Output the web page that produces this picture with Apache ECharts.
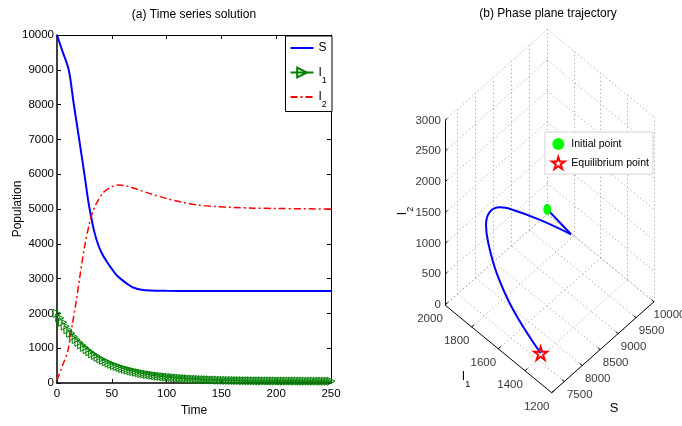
<!DOCTYPE html>
<html>
<head>
<meta charset="utf-8">
<script src="https://cdn.jsdelivr.net/npm/echarts@6/dist/echarts.min.js"></script>
<style>
html, body { margin: 0; padding: 0; background: #fff; }
#chart { width: 682px; height: 426px; }
</style>
</head>
<body>
<div id="chart"></div>
<script>
var FONT = '"Liberation Sans", Arial, sans-serif';

// ---- (a) time series ----
var tS = [0, 5, 10.7, 15, 20, 25, 28.4, 31, 34, 37.5, 41, 45.2, 50, 54.3, 59, 64, 69.5, 77, 85, 100, 125, 150, 175, 200, 225, 250];
var valS = [10000, 9530, 9000, 8080, 7050, 6000, 5254, 4800, 4350, 3980, 3720, 3500, 3280, 3100, 2970, 2850, 2744, 2680, 2655, 2648, 2646, 2645, 2645, 2645, 2645, 2645];

var tI2 = [0, 5, 10, 14, 17.7, 20.8, 25, 29.9, 33, 36, 42, 50, 56, 65, 75, 87, 100, 115, 130, 145, 160, 180, 200, 225, 250];
var valI2 = [80, 500, 940, 1690, 2380, 3050, 3890, 4630, 4950, 5160, 5465, 5640, 5690, 5650, 5545, 5420, 5300, 5190, 5110, 5070, 5045, 5025, 5015, 5005, 5000];

// I1 sampled every 2.5 time units (dense markers)
var I1_STEP = 2.5;
var valI1 = [2000, 1869, 1747, 1633, 1527, 1428, 1336, 1249, 1169, 1094,
  1024, 958, 898, 841, 788, 738, 692, 649, 609, 571,
  536, 504, 473, 445, 418, 394, 371, 349, 329, 310,
  293, 276, 261, 247, 234, 222, 210, 199, 189, 180,
  171, 163, 156, 148, 142, 136, 130, 125, 120, 115,
  111, 106, 103, 99, 96, 93, 90, 87, 85, 82,
  80, 78, 76, 75, 73, 71, 70, 69, 67, 66,
  65, 64, 63, 62, 61, 61, 60, 59, 59, 58,
  58, 57, 57, 56, 56, 55, 55, 55, 54, 54,
  54, 53, 53, 53, 53, 53, 52, 52, 52, 52, 52];

// ---- (b) phase trajectory (S, I1, I2) ----
var trajS  = [10000, 9907, 9004, 8258, 7873, 7568, 7349, 7231, 7206, 7201, 7200];
var trajI1 = [2000, 1797, 1787, 1786, 1782, 1775, 1746, 1697, 1627, 1502, 1296];
var trajI2 = [76, 80, 800, 1350, 1600, 1700, 1650, 1500, 1150, 780, 444];
var initPoint = [10000, 2000, 76];
var eqPoint = [7200, 1296, 444];

var sTicks = [7500, 8000, 8500, 9000, 9500, 10000];
var i1Ticks = [1200, 1400, 1600, 1800, 2000];
var i2Ticks = [0, 500, 1000, 1500, 2000, 2500, 3000];
var S_MIN = 7150, S_MAX = 10000, I1_MIN = 1200, I1_MAX = 2000, I2_MIN = 0, I2_MAX = 3000;

// view of the 3d box on the page (front corner + edge vectors in px)
var box = { ox: 551.7, oy: 392.7, sx: 102.3, sy: -91, ix: -106.7, iy: -87.7, zy: -184.6 };
function proj(s, i1, i2) {
  var a = (s - S_MIN) / (S_MAX - S_MIN);
  var b = (i1 - I1_MIN) / (I1_MAX - I1_MIN);
  var c = (i2 - I2_MIN) / (I2_MAX - I2_MIN);
  return [box.ox + a * box.sx + b * box.ix, box.oy + a * box.sy + b * box.iy + c * box.zy];
}
function seg(p, q) { return { coords: [proj(p[0], p[1], p[2]), proj(q[0], q[1], q[2])] }; }

var dotted = [];
sTicks.forEach(function (s) {
  dotted.push(seg([s, I1_MIN, 0], [s, I1_MAX, 0]));
  dotted.push(seg([s, I1_MAX, 0], [s, I1_MAX, I2_MAX]));
});
i1Ticks.forEach(function (v) {
  dotted.push(seg([S_MIN, v, 0], [S_MAX, v, 0]));
  dotted.push(seg([S_MAX, v, 0], [S_MAX, v, I2_MAX]));
});
i2Ticks.forEach(function (z) {
  dotted.push(seg([S_MIN, I1_MAX, z], [S_MAX, I1_MAX, z]));
  dotted.push(seg([S_MAX, I1_MAX, z], [S_MAX, I1_MIN, z]));
});

var solid = [
  seg([S_MIN, I1_MAX, 0], [S_MIN, I1_MIN, 0]),
  seg([S_MIN, I1_MIN, 0], [S_MAX, I1_MIN, 0]),
  seg([S_MIN, I1_MAX, 0], [S_MIN, I1_MAX, I2_MAX])
];
i2Ticks.forEach(function (z) { solid.push(seg([S_MIN, I1_MAX, z], [S_MIN + 70, I1_MAX, z])); });
i1Ticks.forEach(function (v) { solid.push(seg([S_MIN, v, 0], [S_MIN + 70, v, 0])); });
sTicks.forEach(function (s) { solid.push(seg([s, I1_MIN, 0], [s, I1_MIN + 18, 0])); });

var traj = trajS.map(function (s, k) { return proj(s, trajI1[k], trajI2[k]); });

function tickLabels(list, fn) {
  return list.map(function (v) { return fn(v).concat(v); });
}

var chart = echarts.init(document.getElementById('chart'));

function lbl(size) { return { fontFamily: FONT, fontSize: size, color: '#000' }; }
var subRich = {
  m: { fontFamily: FONT, fontSize: 12, color: '#000' },
  s: { fontFamily: FONT, fontSize: 9, color: '#000', padding: [16, 0, 0, 0] }
};
var plain = function (v) { return String(v); };

var labelSeries = function (name, data, label) {
  return {
    type: 'scatter', name: name, xAxisIndex: 2, yAxisIndex: 2,
    symbolSize: 0, silent: true, data: data,
    label: Object.assign({ show: true, fontFamily: FONT, fontSize: 11.5, color: '#000',
      formatter: function (p) { return p.value[2]; } }, label)
  };
};

var star = 'path://M50,0 L61.2,34.5 L97.6,34.5 L68.2,55.9 L79.4,90.5 L50,69.1 L20.6,90.5 L31.8,55.9 L2.4,34.5 L38.8,34.5 Z';
var hideMark = { opacity: 0 };

chart.setOption({
  animation: false,
  backgroundColor: '#fff',
  textStyle: { fontFamily: FONT, color: '#000' },
  grid: [
    { left: 57, top: 35, width: 274, height: 348, show: false },
    { left: 0, top: 0, width: 682, height: 426, show: false }
  ],
  xAxis: [
    { gridIndex: 0, type: 'value', min: 0, max: 250, interval: 50, position: 'bottom',
      axisLine: { onZero: false, lineStyle: { color: '#000', width: 1.5 } },
      axisTick: { inside: true, length: 4, lineStyle: { color: '#000' } },
      axisLabel: Object.assign({ margin: 5, formatter: plain }, lbl(11.5)), splitLine: { show: false },
      name: 'Time', nameLocation: 'middle', nameGap: 22, nameTextStyle: lbl(12) },
    { gridIndex: 0, type: 'value', min: 0, max: 250, interval: 50, position: 'top',
      axisLine: { onZero: false, lineStyle: { color: '#000', width: 1 } },
      axisTick: { inside: true, length: 4, lineStyle: { color: '#000' } },
      axisLabel: { show: false }, splitLine: { show: false } },
    { gridIndex: 1, type: 'value', min: 0, max: 682, show: false }
  ],
  yAxis: [
    { gridIndex: 0, type: 'value', min: 0, max: 10000, interval: 1000, position: 'left',
      axisLine: { show: true, onZero: false, lineStyle: { color: '#000', width: 1.5 } },
      axisTick: { show: true, inside: true, length: 4, lineStyle: { color: '#000' } },
      axisLabel: Object.assign({ margin: 3, formatter: plain }, lbl(11.5)), splitLine: { show: false },
      name: 'Population', nameLocation: 'middle', nameGap: 33, nameMoveOverlap: false, nameTextStyle: lbl(12) },
    { gridIndex: 0, type: 'value', min: 0, max: 10000, interval: 1000, position: 'right',
      axisLine: { show: true, onZero: false, lineStyle: { color: '#000', width: 1 } },
      axisTick: { show: true, inside: true, length: 4, lineStyle: { color: '#000' } },
      axisLabel: { show: false }, splitLine: { show: false } },
    { gridIndex: 1, type: 'value', min: 0, max: 426, inverse: true, show: false }
  ],
  legend: [
    { data: [{ name: 'S', itemStyle: hideMark }, { name: 'I1' }, { name: 'I2', itemStyle: hideMark }],
      orient: 'vertical', right: 350, top: 36,
      backgroundColor: '#fff', borderColor: '#000', borderWidth: 1, borderRadius: 0,
      padding: [6, 3, 2, 4], itemGap: 6, itemWidth: 23, itemHeight: 12,
      selectedMode: false,
      textStyle: { fontFamily: FONT, fontSize: 12, color: '#000', rich: subRich },
      formatter: function (n) { return n === 'S' ? '{m|S}{s| }' : '{m|I}{s|' + n.slice(1) + '}'; } },
    { data: ['Initial point', 'Equilibrium point'], orient: 'vertical', left: 545, top: 132,
      backgroundColor: '#fff', borderColor: '#d4d4d4', borderWidth: 1, borderRadius: 0,
      padding: [6, 4, 4, 6], itemGap: 6, itemWidth: 16, itemHeight: 12,
      selectedMode: false,
      textStyle: { fontFamily: FONT, fontSize: 10.5, color: '#000' } }
  ],
  graphic: [
    { type: 'text', x: 194, y: 15, style: { text: '(a) Time series solution', font: '12px ' + FONT, fill: '#000', textAlign: 'center', textVerticalAlign: 'middle' } },
    { type: 'text', x: 548, y: 14, style: { text: '(b) Phase plane trajectory', font: '12px ' + FONT, fill: '#000', textAlign: 'center', textVerticalAlign: 'middle' } },
    { type: 'text', x: 614, y: 408, style: { text: 'S', font: '13px ' + FONT, fill: '#000', textAlign: 'center', textVerticalAlign: 'middle' } },
    { type: 'text', x: 466, y: 377, style: { text: '{m|I}{s|1}', rich: subRich, fill: '#000', textAlign: 'center', textVerticalAlign: 'middle' } },
    { type: 'text', x: 403, y: 211, rotation: Math.PI / 2, style: { text: '{m|I}{s|2}', rich: subRich, fill: '#000', textAlign: 'center', textVerticalAlign: 'middle' } }
  ],
  series: [
    { type: 'line', name: 'S', xAxisIndex: 0, yAxisIndex: 0, data: tS.map(function (t, k) { return [t, valS[k]]; }),
      showSymbol: false, symbol: 'none', smooth: 0.3, lineStyle: { color: '#0000ff', width: 2 }, itemStyle: { color: '#0000ff' } },
    { type: 'line', name: 'I1', xAxisIndex: 0, yAxisIndex: 0, data: valI1.map(function (v, k) { return [k * I1_STEP, v]; }),
      symbol: 'triangle', symbolRotate: -90, symbolSize: 8, showSymbol: true, showAllSymbol: true, clip: false,
      lineStyle: { color: '#008000', width: 1 },
      itemStyle: { color: 'rgba(255,255,255,0)', borderColor: '#008000', borderWidth: 1 } },
    { type: 'line', name: 'I2', xAxisIndex: 0, yAxisIndex: 0, data: tI2.map(function (t, k) { return [t, valI2[k]]; }),
      showSymbol: false, symbol: 'none', smooth: 0.3, lineStyle: { color: '#ff0000', width: 1.5, type: [7, 3, 2, 3] }, itemStyle: { color: '#ff0000' } },

    { type: 'lines', coordinateSystem: 'cartesian2d', xAxisIndex: 2, yAxisIndex: 2, silent: true, data: dotted,
      lineStyle: { color: '#999', width: 1, opacity: 1, type: [1, 3] } },
    { type: 'lines', coordinateSystem: 'cartesian2d', xAxisIndex: 2, yAxisIndex: 2, silent: true, data: solid,
      lineStyle: { color: '#000', width: 1, opacity: 1, type: 'solid' } },
    labelSeries('lblI2', tickLabels(i2Ticks, function (z) { return proj(S_MIN, I1_MAX, z); }), { position: 'left', distance: 4 }),
    labelSeries('lblI1', tickLabels(i1Ticks, function (v) { return proj(S_MIN, v, 0); }), { position: 'inside', offset: [-15, 14] }),
    labelSeries('lblS', tickLabels(sTicks, function (s) { return proj(s, I1_MIN, 0); }), { position: 'inside', offset: [15.5, 13] }),
    { type: 'line', name: 'traj1', xAxisIndex: 2, yAxisIndex: 2, data: traj.slice(0, 2), symbol: 'none',
      lineStyle: { color: '#0000ff', width: 2 } },
    { type: 'line', name: 'traj2', xAxisIndex: 2, yAxisIndex: 2, data: traj.slice(1), symbol: 'none', smooth: 0.4,
      lineStyle: { color: '#0000ff', width: 2 } },
    { type: 'scatter', name: 'Initial point', xAxisIndex: 2, yAxisIndex: 2, data: [proj(initPoint[0], initPoint[1], initPoint[2])],
      symbol: 'circle', symbolSize: [8, 11], itemStyle: { color: '#00ff00', opacity: 1 }, z: 5 },
    { type: 'scatter', name: 'Equilibrium point', xAxisIndex: 2, yAxisIndex: 2, data: [proj(eqPoint[0], eqPoint[1], eqPoint[2])],
      symbol: star, symbolSize: 13, itemStyle: { color: 'rgba(255,255,255,0)', borderColor: '#ff0000', borderWidth: 2, opacity: 1 }, z: 5 }
  ]
});
</script>
</body>
</html>
